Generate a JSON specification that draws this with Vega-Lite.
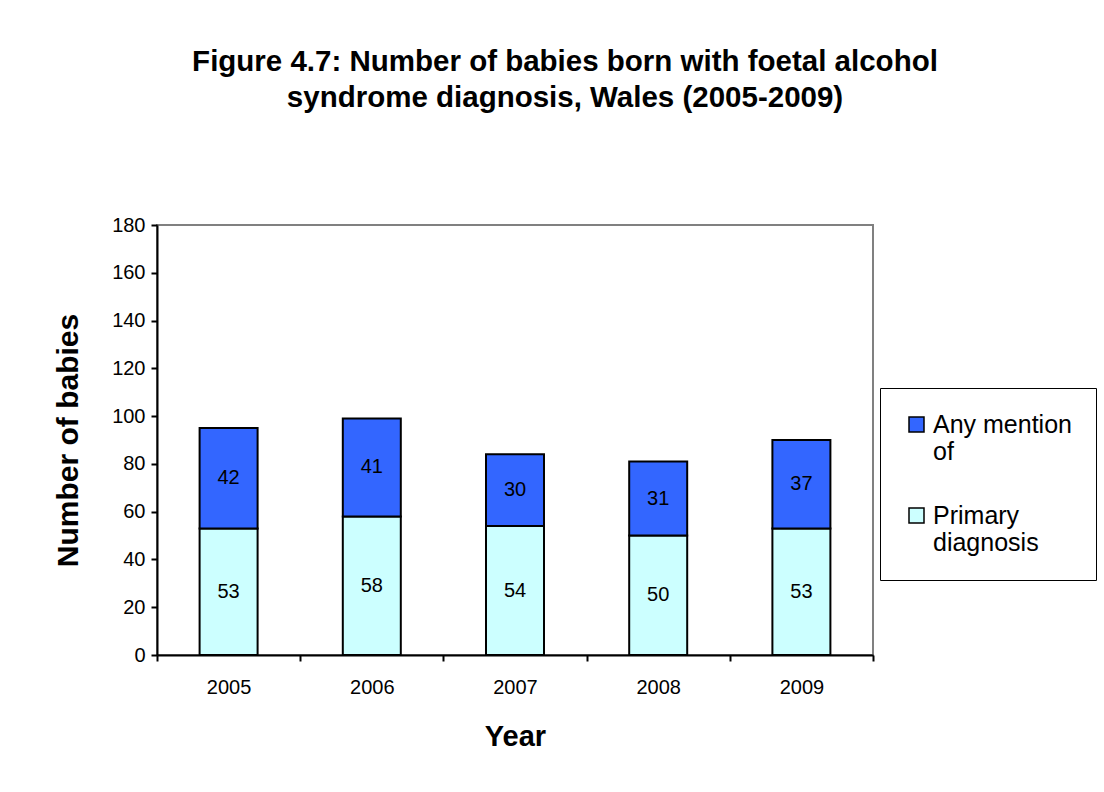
{
  "$schema": "https://vega.github.io/schema/vega-lite/v6.json",
  "width": 716,
  "height": 430,
  "autosize": {"type": "none"},
  "padding": {"left": 157, "top": 225, "right": 231, "bottom": 137},
  "background": "white",
  "title": {
    "text": ["Figure 4.7: Number of babies born with foetal alcohol", "syndrome diagnosis, Wales (2005-2009)"],
    "font": "Liberation Sans",
    "fontSize": 29.5,
    "fontWeight": "bold",
    "color": "black",
    "anchor": "middle",
    "dx": 50,
    "offset": 102,
    "lineHeight": 36
  },
  "config": {
    "view": {"stroke": "#808080", "strokeWidth": 2},
    "font": "Liberation Sans"
  },
  "data": {
    "values": [
      {"year": "2005", "type": "Primary diagnosis", "babies": 53},
      {"year": "2005", "type": "Any mention of", "babies": 42},
      {"year": "2006", "type": "Primary diagnosis", "babies": 58},
      {"year": "2006", "type": "Any mention of", "babies": 41},
      {"year": "2007", "type": "Primary diagnosis", "babies": 54},
      {"year": "2007", "type": "Any mention of", "babies": 30},
      {"year": "2008", "type": "Primary diagnosis", "babies": 50},
      {"year": "2008", "type": "Any mention of", "babies": 31},
      {"year": "2009", "type": "Primary diagnosis", "babies": 53},
      {"year": "2009", "type": "Any mention of", "babies": 37}
    ]
  },
  "transform": [
    {"stack": "babies", "groupby": ["year"], "sort": [{"field": "type", "order": "descending"}], "as": ["b0", "b1"]},
    {"calculate": "(datum.b0 + datum.b1) / 2", "as": "labelpos"}
  ],
  "encoding": {
    "x": {
      "field": "year",
      "type": "ordinal",
      "scale": {"paddingInner": 0, "paddingOuter": 0},
      "axis": {
        "title": "Year",
        "titleFont": "Liberation Sans",
        "titleFontSize": 29,
        "titleFontWeight": "bold",
        "titleColor": "black",
        "titlePadding": 25,
        "labelAngle": 0,
        "labelFont": "Liberation Sans",
        "labelFontSize": 20,
        "labelColor": "black",
        "labelPadding": 16,
        "tickBand": "extent",
        "tickSize": 6,
        "tickWidth": 2,
        "tickColor": "black",
        "domainColor": "black",
        "domainWidth": 2
      }
    }
  },
  "layer": [
    {
      "mark": {"type": "bar", "stroke": "black", "strokeWidth": 2, "width": {"band": 0.405}},
      "encoding": {
        "y": {
          "field": "b1",
          "type": "quantitative",
          "scale": {"domain": [0, 180], "nice": false},
          "axis": {
            "title": "Number of babies",
            "titleFont": "Liberation Sans",
            "titleFontSize": 30,
            "titleFontWeight": "bold",
            "titleColor": "black",
            "titlePadding": 28,
            "values": [0, 20, 40, 60, 80, 100, 120, 140, 160, 180],
            "grid": false,
            "labelFont": "Liberation Sans",
            "labelFontSize": 20,
            "labelColor": "black",
            "labelPadding": 6,
            "tickSize": 6,
            "tickWidth": 2,
            "tickColor": "black",
            "domainColor": "black",
            "domainWidth": 2
          }
        },
        "y2": {"field": "b0"},
        "color": {
          "field": "type",
          "type": "nominal",
          "scale": {"domain": ["Any mention of", "Primary diagnosis"], "range": ["#3366FF", "#CCFFFF"]},
          "legend": {
            "title": null,
            "orient": "none",
            "legendX": 723,
            "legendY": 163,
            "strokeColor": "black",
            "padding": 24,
            "symbolType": "square",
            "symbolSize": 225,
            "symbolStrokeColor": "black",
            "symbolStrokeWidth": 1.5,
            "labelFont": "Liberation Sans",
            "labelFontSize": 25,
            "labelColor": "black",
            "labelLimit": 300,
            "rowPadding": 38,
            "labelExpr": "datum.label == 'Any mention of' ? ['Any mention', 'of'] : ['Primary', 'diagnosis']"
          }
        }
      }
    },
    {
      "mark": {"type": "text", "font": "Liberation Sans", "fontSize": 20, "color": "black"},
      "encoding": {
        "y": {"field": "labelpos", "type": "quantitative"},
        "text": {"field": "babies", "type": "quantitative"}
      }
    }
  ]
}
